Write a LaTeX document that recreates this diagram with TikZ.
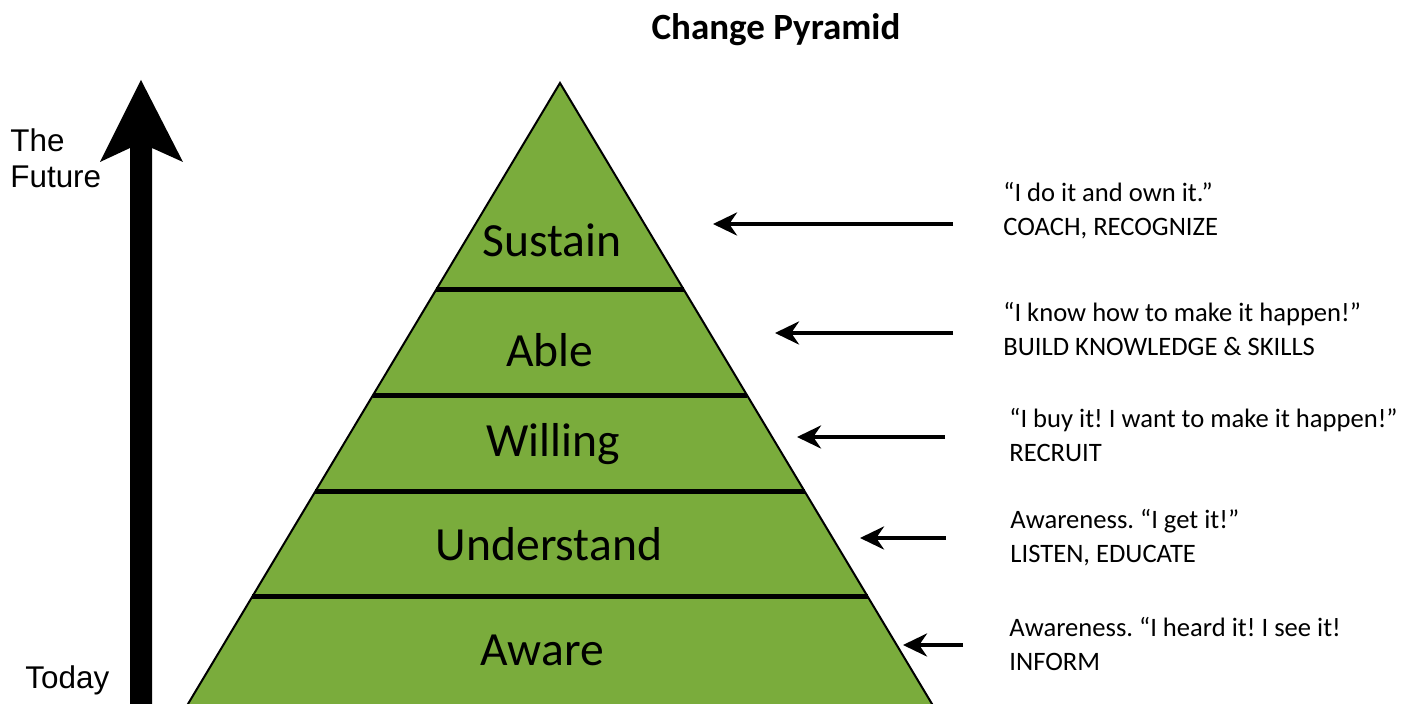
\documentclass[tikz,border=0pt]{standalone}
\usepackage{fontspec}
\setmainfont{Carlito}
\newfontfamily\arialfont{Liberation Sans}
\usetikzlibrary{arrows.meta}
\definecolor{leafgreen}{RGB}{122,172,60}
\frenchspacing

\begin{document}
\begin{tikzpicture}[x=0.5pt, y=-0.5pt]
  \tikzstyle{layer}=[anchor=base, inner sep=0pt, font=\fontsize{23.8}{28}\selectfont]
  \tikzstyle{quote}=[anchor=base west, align=left, inner sep=0pt, font=\fontsize{13.3}{17}\selectfont]
  \tikzstyle{timelabel}=[anchor=base west, align=left, inner sep=0pt, font=\arialfont\fontsize{15.7}{18}\selectfont]
  \tikzstyle{pointer}=[-{Stealth[length=12pt, width=11.5pt]}, line width=2pt]

  \useasboundingbox (0,0) rectangle (1410,704);
  \clip (0,0) rectangle (1410,704);

  % Titulo
  \node (title) [anchor=base, font=\bfseries\fontsize{18.5}{22}\selectfont] at (776,40) {Change Pyramid};

  % Seta do tempo
  \fill (130,720) -- (130,148) -- (100,162) -- (141,80) -- (183,162) -- (152,148) -- (152,720) -- cycle;
  \node[timelabel] (future) at (10,188) {The\\Future};
  \node[timelabel] (today) at (25,689) {Today};

  % Piramide
  \coordinate (apex) at (560,83);
  \filldraw[fill=leafgreen, line width=1pt] (apex) -- (947.6,730) -- (172.4,730) -- cycle;
  \foreach \y in {290, 396, 492, 597}
    \draw[line width=2.5pt] ({560-0.599*(\y-83)},\y) -- ({560+0.599*(\y-83)},\y);

  % Camadas
  \node[layer] (sustain) at (552,257) {Sustain};
  \node[layer] (able) at (550,367) {Able};
  \node[layer] (willing) at (553,457) {Willing};
  \node[layer] (understand) at (549,561) {Understand};
  \node[layer] (aware) at (542,666) {Aware};

  % Mensagens
  \node[quote] (msgsustain) at (1003,236) {“I do it and own it.”\\COACH, RECOGNIZE};
  \node[quote] (msgable) at (1003,356) {“I know how to make it happen!”\\BUILD KNOWLEDGE \& SKILLS};
  \node[quote] (msgwilling) at (1009,462) {“I buy it! I want to make it happen!”\\RECRUIT};
  \node[quote] (msgunderstand) at (1010,563) {Awareness. “I get it!”\\LISTEN, EDUCATE};
  \node[quote] (msgaware) at (1009,671) {Awareness. “I heard it! I see it!\\INFORM};

  % Setas
  \foreach \n/\y/\xa/\xb in {sustain/224/953/713, able/333/953/775, willing/437/945/797,
                             understand/538/946/860, aware/645/963/903} {
    \coordinate (tail\n) at (\xa,\y);
    \coordinate (tip\n) at (\xb,\y);
    \draw[pointer] (tail\n) -- (tip\n);
  }
\end{tikzpicture}
\end{document}
